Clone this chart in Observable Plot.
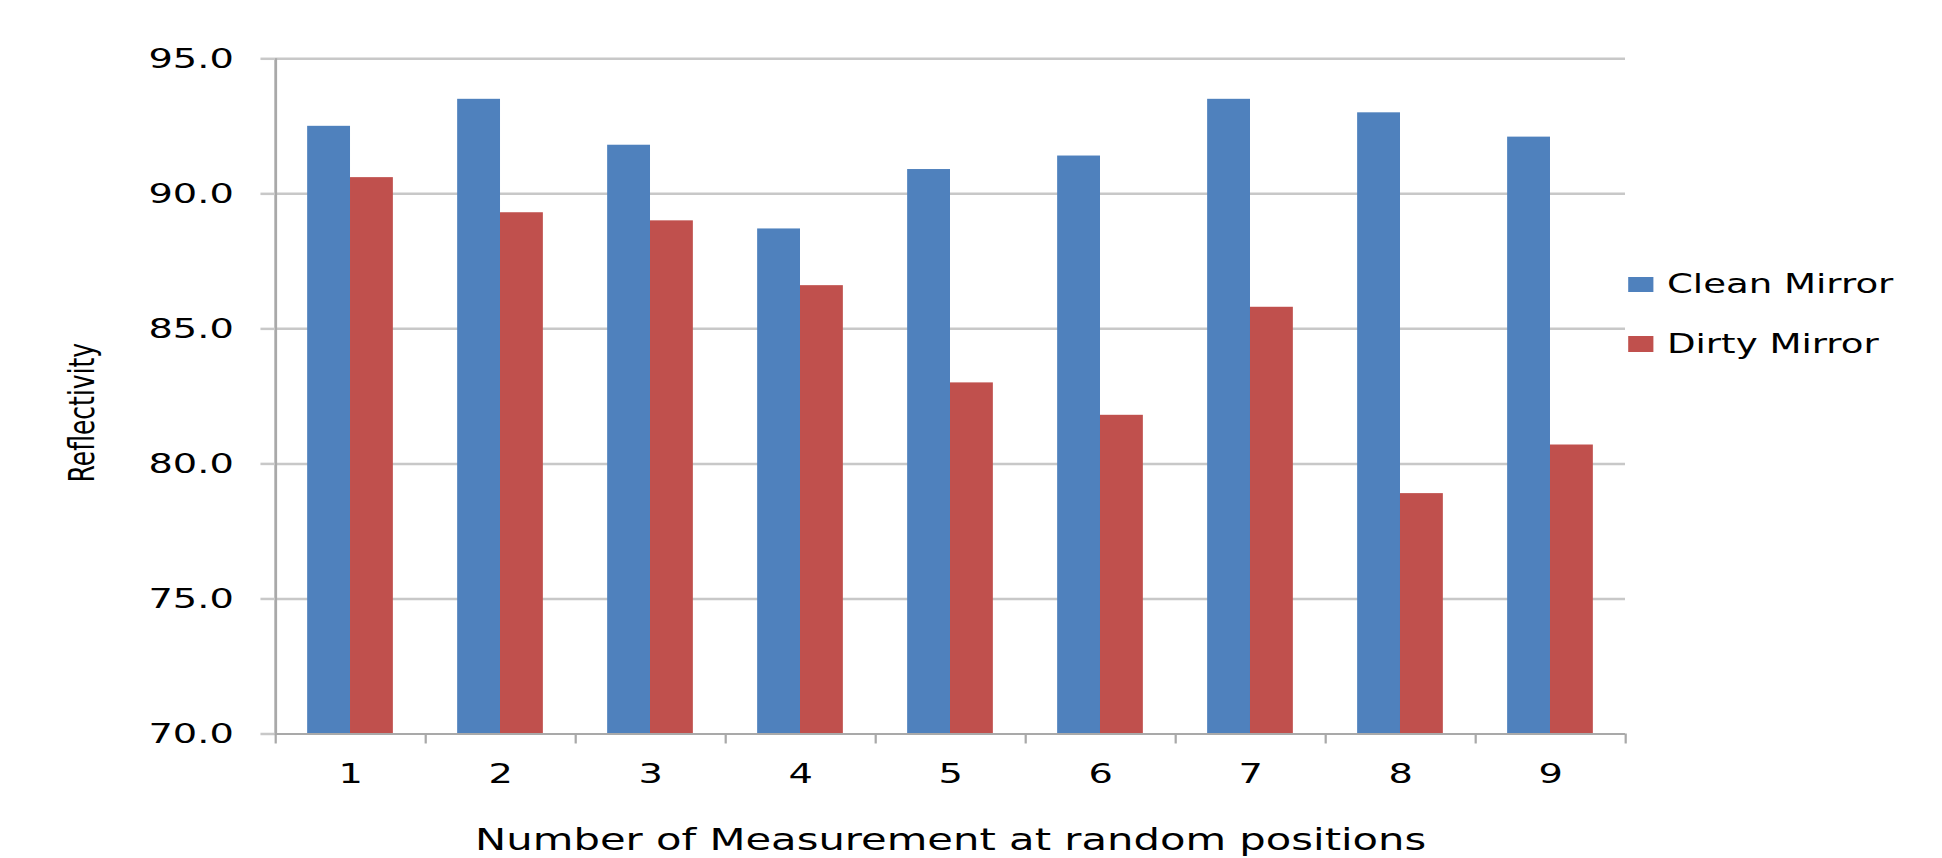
<!DOCTYPE html>
<html>
<head>
<meta charset="utf-8">
<script src="https://cdn.jsdelivr.net/npm/d3@7"></script>
<script src="https://cdn.jsdelivr.net/npm/@observablehq/plot@0.6"></script>
<style>
  html, body { margin: 0; padding: 0; background: #fff; overflow: hidden; }
  #stage { position: relative; height: 858px; transform-origin: 0 0; font-family: "DejaVu Sans", sans-serif; color: #000; }
  #stage svg { position: absolute; left: 0; top: 0; }
  .legend-row { position: absolute; display: flex; align-items: center; white-space: nowrap; line-height: 1; }
  .legend-key { display: inline-block; flex: none; }
</style>
</head>
<body>
<div id="stage"></div>
<script>
// Reflectivity of the mirror at nine random positions, before and after soiling
const measurements = [1, 2, 3, 4, 5, 6, 7, 8, 9];
const cleanMirror = [92.5, 93.5, 91.8, 88.7, 90.9, 91.4, 93.5, 93.0, 92.1];
const dirtyMirror = [90.6, 89.3, 89.0, 86.6, 83.0, 81.8, 85.8, 78.9, 80.7];
const seriesNames = ["Clean Mirror", "Dirty Mirror"];
const seriesColors = ["#4F81BD", "#C0504D"];
const yTicks = [70, 75, 80, 85, 90, 95];
const xTitle = "Number of Measurement at random positions";
const yTitle = "Reflectivity";

// The whole figure is drawn narrow and widened horizontally by this factor
const STRETCH = 1.4;
const FULL_W = 1942, FULL_H = 858;
const W = FULL_W / STRETCH;

// Clustered columns: gap of 150% of a bar width between groups
const barFrac = 1 / 3.5;
const bars = [];
measurements.forEach((m, i) => {
  bars.push({m, series: seriesNames[0], value: cleanMirror[i], x1: m - barFrac, x2: m});
  bars.push({m, series: seriesNames[1], value: dirtyMirror[i], x1: m, x2: m + barFrac});
});
const yMin = yTicks[0], yMax = yTicks[yTicks.length - 1];
const boundaries = d3.range(measurements.length + 1).map(i => measurements[0] - 0.5 + i);

const axisGray = "#a9a9a9";
const gridGray = "#c8c8c8";
const tickFont = 27.4;

const chart = Plot.plot({
  width: W,
  height: FULL_H,
  marginLeft: 275 / STRETCH,
  marginRight: (FULL_W - 1625) / STRETCH,
  marginTop: 58.3,
  marginBottom: FULL_H - 733.5,
  x: {domain: [boundaries[0], boundaries[boundaries.length - 1]]},
  y: {domain: [yMin, yMax]},
  color: {domain: seriesNames, range: seriesColors},
  style: {fontFamily: "'DejaVu Sans', sans-serif", color: "#000", background: "transparent", overflow: "visible"},
  marks: [
    Plot.gridY(yTicks.filter(t => t > yMin), {stroke: gridGray, strokeOpacity: 1, strokeWidth: 2.5}),
    Plot.rect(bars, {x1: "x1", x2: "x2", y1: () => yMin, y2: "value", fill: "series"}),
    Plot.ruleY([yMin], {stroke: axisGray, strokeWidth: 2}),
    Plot.ruleX([boundaries[0]], {stroke: axisGray, strokeWidth: 2}),
    Plot.axisY(yTicks, {tickSize: 10.4, tickPadding: 19.5, tickFormat: d3.format(".1f"), fontSize: tickFont,
      stroke: gridGray, strokeWidth: 2.5, label: null}),
    Plot.axisX(boundaries, {tickSize: 10, text: null, stroke: axisGray, strokeWidth: 1.6, label: null}),
    Plot.axisX(measurements, {tickSize: 0, tickPadding: 29.5, fontSize: tickFont, label: null}),
    Plot.text([yTitle], {frameAnchor: "left", rotate: -90, dx: -(275 / STRETCH - 82 / STRETCH), dy: 86, fontSize: 25}),
    Plot.text([xTitle], {frameAnchor: "bottom", dy: 116, fontSize: 29.8})
  ]
});

const stage = document.getElementById("stage");
stage.style.width = W + "px";
stage.style.transform = `scaleX(${STRETCH})`;
stage.appendChild(chart);

// Legend to the right of the plot area, one row per series
const color = chart.scale("color");
const legendCenters = [284.5, 344];
color.domain.forEach((name, i) => {
  const row = document.createElement("div");
  row.className = "legend-row";
  row.style.left = (1628 / STRETCH) + "px";
  row.style.top = (legendCenters[i] - 15) + "px";
  row.style.height = "30px";
  row.style.fontSize = "26.5px";
  const key = document.createElement("span");
  key.className = "legend-key";
  key.style.width = (25 / STRETCH) + "px";
  key.style.height = "15.7px";
  key.style.background = color.range[i];
  key.style.marginRight = (14 / STRETCH) + "px";
  const label = document.createElement("span");
  label.textContent = name;
  row.appendChild(key);
  row.appendChild(label);
  stage.appendChild(row);
});
</script>
</body>
</html>
